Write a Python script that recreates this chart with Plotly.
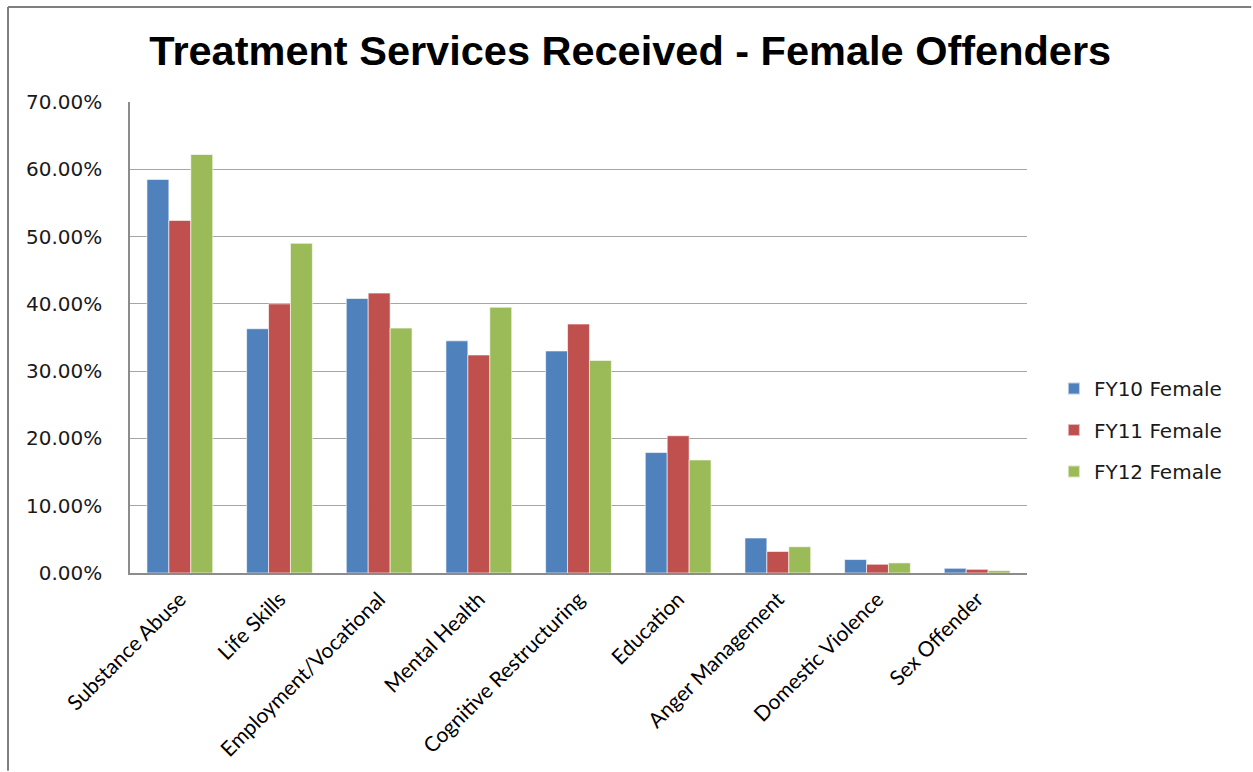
import plotly.graph_objects as go

# Treatment service categories and share of female offenders receiving each
categories = [
    "Substance Abuse", "Life Skills", "Employment/Vocational", "Mental Health",
    "Cognitive Restructuring", "Education", "Anger Management",
    "Domestic Violence", "Sex Offender",
]
fy10_female = [0.585, 0.363, 0.408, 0.345, 0.330, 0.179, 0.052, 0.020, 0.007]
fy11_female = [0.524, 0.400, 0.416, 0.324, 0.370, 0.204, 0.032, 0.013, 0.0055]
fy12_female = [0.622, 0.490, 0.364, 0.395, 0.316, 0.168, 0.039, 0.015, 0.0035]

series_names = ["FY10 Female", "FY11 Female", "FY12 Female"]
series_colors = ["#4F81BD", "#C0504D", "#9BBB59"]
y_ticks = [0.0, 0.1, 0.2, 0.3, 0.4, 0.5, 0.6, 0.7]

fig = go.Figure()
for name, vals, color in zip(series_names, [fy10_female, fy11_female, fy12_female], series_colors):
    fig.add_trace(go.Bar(
        x=categories, y=vals, name=name, legendgroup=name,
        marker=dict(color=color, line=dict(color="rgba(255,255,255,0.6)", width=1)),
    ))

fig.update_layout(
    width=1253, height=772,
    margin=dict(l=130, r=226, t=102, b=199),
    paper_bgcolor="white", plot_bgcolor="white",
    barmode="group", bargap=0.34, bargroupgap=0,
    title=dict(
        text="<b>Treatment Services Received - Female Offenders</b>",
        x=0.503, xanchor="center", y=0.935, yanchor="middle",
        font=dict(family="Liberation Sans Narrow, Arial Narrow, sans-serif", size=41.5, color="black"),
    ),
    legend=dict(
        x=1.03, xanchor="left", y=0.3036, yanchor="middle",
        font=dict(family="DejaVu Sans, Verdana, sans-serif", size=20, color="#1a1a1a"),
        itemsizing="constant", tracegroupgap=12.5, traceorder="grouped",
        bgcolor="rgba(0,0,0,0)",
    ),
    font=dict(family="Lato, sans-serif", color="black"),
)

fig.update_xaxes(
    tickangle=-45, showgrid=False, automargin=False,
    showline=True, linecolor="#8c8c8c", linewidth=1.5,
    tickfont=dict(family="Lato, Open Sans, sans-serif", size=21, color="black"),
    ticks="", ticklabelstandoff=4, fixedrange=True,
)
fig.update_yaxes(
    range=[0, 0.7], tickvals=y_ticks, tickformat=".2%", automargin=False,
    showgrid=True, gridcolor="#a6a6a6", gridwidth=1,
    showline=True, linecolor="#8c8c8c", linewidth=1.5,
    ticks="", ticklabelstandoff=22,
    tickfont=dict(family="DejaVu Sans, Verdana, sans-serif", size=20, color="#1a1a1a"),
    zeroline=False, fixedrange=True,
)

# Outer frame of the chart area (top and left edges)
fig.add_shape(type="line", xref="paper", yref="paper",
              x0=-0.136, x1=1.25, y0=1.2017, y1=1.2017,
              line=dict(color="#7f7f7f", width=2))
fig.add_shape(type="line", xref="paper", yref="paper",
              x0=-0.136, x1=-0.136, y0=1.2017, y1=-0.42,
              line=dict(color="#7f7f7f", width=2))

fig.write_html("out.html")
